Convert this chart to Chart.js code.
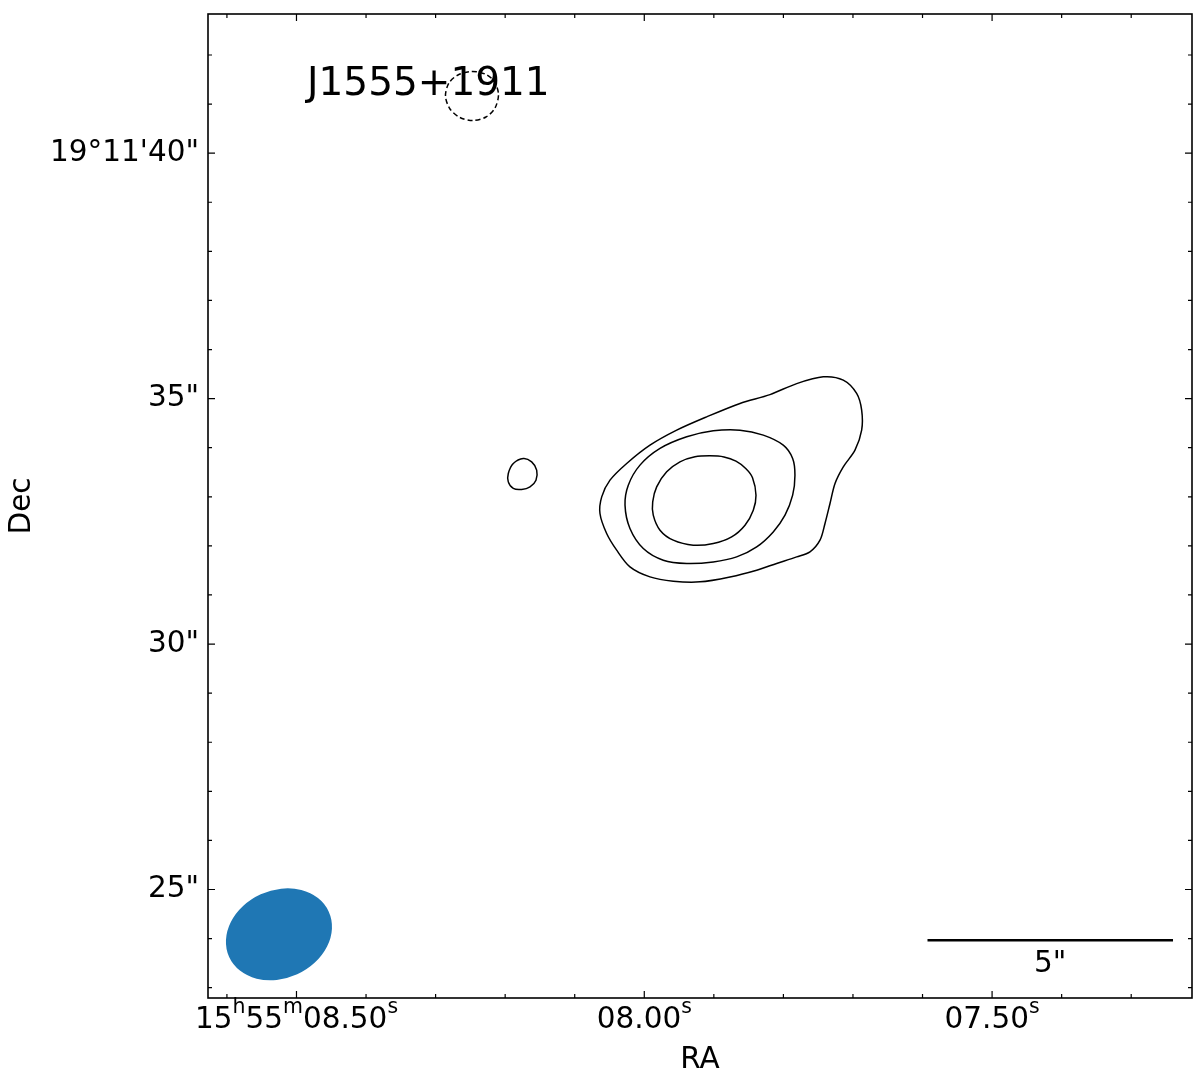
<!DOCTYPE html>
<html>
<head>
<meta charset="utf-8">
<script src="https://cdn.jsdelivr.net/npm/chart.js@4/dist/chart.umd.min.js"></script>
<style>
html,body{margin:0;padding:0;background:#fff;}
#wrap{width:1200px;height:1075px;position:relative;}
</style>
</head>
<body>
<div id="wrap"><canvas id="c" width="1200" height="1075"></canvas></div>
<script>
// ---------------- data ----------------
const sourceName = 'J1555+1911';
const raAxisTitle = 'RA';
const decAxisTitle = 'Dec';
// RA in seconds of 15h55m, Dec in arcsec of +19°11'
const raRange = [7.2126, 8.6272];
const decRange = [22.79, 42.835];
const raMajorTicks = [8.5, 8.0, 7.5];
const raTickLabels = ['15^h55^m08.50^s', '08.00^s', '07.50^s'];
const raMinorTicks = [8.6, 8.4, 8.3, 8.2, 8.1, 7.9, 7.8, 7.7, 7.6, 7.4, 7.3];
const decMajorTicks = [25, 30, 35, 40];
const decTickLabels = ['25"', '30"', '35"', '19°11\'40"'];
const decMinorTicks = [23, 24, 26, 27, 28, 29, 31, 32, 33, 34, 36, 37, 38, 39, 41, 42];

const contourOuter = [
  [7.7427,35.444],[7.7139,35.377],[7.6947,35.106],[7.6875,34.766],[7.6875,34.358],
  [7.6971,33.950],[7.7139,33.610],[7.7258,33.272],[7.7330,32.864],[7.7402,32.457],
  [7.7474,32.116],[7.7618,31.878],[7.7809,31.776],[7.8097,31.642],[7.8384,31.505],
  [7.8768,31.368],[7.9199,31.267],[7.9583,31.281],[7.9918,31.368],[8.0206,31.572],
  [8.0397,31.913],[8.0541,32.253],[8.0637,32.660],[8.0612,32.999],[8.0493,33.339],
  [8.0253,33.679],[7.9918,34.052],[7.9534,34.358],[7.9103,34.629],[7.8624,34.902],
  [7.8193,35.082],[7.7809,35.306]
];
const contourMiddle = [
  [7.8624,34.358],[7.8289,34.256],[7.8002,34.052],[7.7867,33.781],[7.7834,33.441],
  [7.7867,33.033],[7.7977,32.626],[7.8146,32.285],[7.8384,31.980],[7.8672,31.776],
  [7.9008,31.674],[7.9390,31.642],[7.9727,31.709],[8.0014,31.947],[8.0206,32.355],
  [8.0277,32.830],[8.0230,33.237],[8.0062,33.645],[7.9774,33.985],[7.9390,34.222],
  [7.9008,34.344]
];
const contourInner = [
  [7.9056,33.834],[7.8854,33.812],[7.8682,33.726],[7.8538,33.573],[7.8444,33.390],
  [7.8394,33.033],[7.8433,32.728],[7.8552,32.422],[7.8744,32.184],[7.9008,32.049],
  [7.9296,32.014],[7.9583,32.116],[7.9774,32.320],[7.9871,32.626],[7.9879,32.897],
  [7.9822,33.203],[7.9678,33.508],[7.9487,33.712],[7.9271,33.814]
];
const contourKnot = [
  [8.1739,33.781],[8.1619,33.712],[8.1547,33.543],[8.1557,33.339],[8.1643,33.203],
  [8.1763,33.150],[8.1883,33.170],[8.1955,33.304],[8.1955,33.476],[8.1883,33.679]
];
const contourNegative = [
  [8.2477,41.664],[8.2290,41.613],[8.2161,41.470],[8.2096,41.205],[8.2146,40.920],
  [8.2276,40.737],[8.2463,40.665],[8.2650,40.726],[8.2793,40.900],[8.2858,41.165],
  [8.2808,41.430],[8.2678,41.593]
];

// synthesized beam: centre [RA s, Dec "], FWHM major/minor (arcsec), PA (deg E of N)
const beamCentre = [8.5252, 24.087];
const beamMajor = 2.23;
const beamMinor = 1.79;
const beamPA = -65.5;
const beamColor = '#1f77b4';

// scale bar: right end RA, Dec, length (arcsec), declination (deg) for RA conversion
const scaleBarRightRA = 7.2399;
const scaleBarDec = 23.965;
const scaleBarLength = 5;
const scaleBarLabel = '5"';
const fieldDecDeg = 19 + 11/60 + 24/3600;

// ---------------- helpers ----------------
const FONT = "'DejaVu Sans', 'Liberation Sans', sans-serif";
const LABEL_SIZE = 29.5;
function closedLoop(arr) {
  const n = arr.length;
  const seq = [arr[n-1]].concat(arr, [arr[0], arr[1]]);
  return seq.map(p => ({x: p[0], y: p[1]}));
}
function contourSet(arr, dash) {
  const data = closedLoop(arr);
  const last = data.length - 1;
  return {
    data: data,
    showLine: true,
    borderColor: '#000',
    borderWidth: 1.5,
    borderDash: dash || [],
    pointRadius: 0,
    pointHoverRadius: 0,
    tension: 0.3,
    fill: false,
    segment: {
      borderColor: ctx => (ctx.p0DataIndex === 0 || ctx.p1DataIndex === last) ? 'rgba(0,0,0,0)' : '#000'
    }
  };
}
const scaleBarLeftRA = scaleBarRightRA + scaleBarLength / (15 * Math.cos(fieldDecDeg * Math.PI / 180));

const overlay = {
  id: 'overlay',
  beforeDatasetsDraw(chart) {
    const ctx = chart.ctx, xs = chart.scales.x, ys = chart.scales.y, a = chart.chartArea;
    const pxPerArcsec = Math.abs(ys.getPixelForValue(1) - ys.getPixelForValue(0));
    const cx = xs.getPixelForValue(beamCentre[0]);
    const cy = ys.getPixelForValue(beamCentre[1]);
    const pa = beamPA * Math.PI / 180;
    const rot = Math.atan2(-Math.cos(pa), -Math.sin(pa));
    ctx.save();
    ctx.beginPath();
    ctx.rect(a.left, a.top, a.right - a.left, a.bottom - a.top);
    ctx.clip();
    ctx.beginPath();
    ctx.ellipse(cx, cy, beamMajor / 2 * pxPerArcsec, beamMinor / 2 * pxPerArcsec, rot, 0, Math.PI * 2);
    ctx.fillStyle = beamColor;
    ctx.fill();
    ctx.restore();
  },
  afterDraw(chart) {
    const ctx = chart.ctx, xs = chart.scales.x, ys = chart.scales.y, a = chart.chartArea;
    ctx.save();
    ctx.strokeStyle = '#000';
    ctx.lineWidth = 1.6;
    ctx.strokeRect(a.left, a.top, a.right - a.left, a.bottom - a.top);
    ctx.lineWidth = 1.2;
    const tickX = (v, len) => {
      const p = xs.getPixelForValue(v);
      ctx.beginPath();
      ctx.moveTo(p, a.bottom); ctx.lineTo(p, a.bottom - len);
      ctx.moveTo(p, a.top); ctx.lineTo(p, a.top + len);
      ctx.stroke();
    };
    const tickY = (v, len) => {
      const p = ys.getPixelForValue(v);
      ctx.beginPath();
      ctx.moveTo(a.left, p); ctx.lineTo(a.left + len, p);
      ctx.moveTo(a.right, p); ctx.lineTo(a.right - len, p);
      ctx.stroke();
    };
    raMajorTicks.forEach(v => tickX(v, 7));
    raMinorTicks.forEach(v => tickX(v, 4));
    decMajorTicks.forEach(v => tickY(v, 7));
    decMinorTicks.forEach(v => tickY(v, 4));
    // RA tick labels with superscripts
    const mainSize = LABEL_SIZE, supSize = 20.5;
    const baseY = a.bottom + 30;
    ctx.fillStyle = '#000';
    ctx.textBaseline = 'alphabetic';
    ctx.textAlign = 'left';
    raMajorTicks.forEach((v, i) => {
      const parts = raTickLabels[i].split(/\^(.)/);
      let total = 0;
      parts.forEach((t, k) => {
        ctx.font = (k % 2 ? supSize : mainSize) + 'px ' + FONT;
        total += ctx.measureText(t).width;
      });
      let x = xs.getPixelForValue(v) - total / 2;
      parts.forEach((t, k) => {
        const sup = k % 2 === 1;
        ctx.font = (sup ? supSize : mainSize) + 'px ' + FONT;
        ctx.fillText(t, x, sup ? baseY - 15 : baseY);
        x += ctx.measureText(t).width;
      });
    });
    // source name
    ctx.font = '39px ' + FONT;
    ctx.textAlign = 'left';
    ctx.textBaseline = 'alphabetic';
    ctx.fillText(sourceName, a.left + 99, a.top + 81);
    // scale bar label
    ctx.font = LABEL_SIZE + 'px ' + FONT;
    ctx.textAlign = 'center';
    ctx.textBaseline = 'middle';
    const sbx = (xs.getPixelForValue(scaleBarLeftRA) + xs.getPixelForValue(scaleBarRightRA)) / 2;
    ctx.fillText(scaleBarLabel, sbx, ys.getPixelForValue(scaleBarDec) + 24);
    ctx.restore();
  }
};

const scaleBarSet = {
  data: [{x: scaleBarLeftRA, y: scaleBarDec}, {x: scaleBarRightRA, y: scaleBarDec}],
  showLine: true, borderColor: '#000', borderWidth: 2.5, pointRadius: 0, pointHoverRadius: 0, fill: false
};

new Chart(document.getElementById('c'), {
  type: 'scatter',
  data: {
    datasets: [
      contourSet(contourOuter),
      contourSet(contourMiddle),
      contourSet(contourInner),
      contourSet(contourKnot),
      contourSet(contourNegative, [5, 3]),
      scaleBarSet
    ]
  },
  options: {
    responsive: false,
    animation: false,
    devicePixelRatio: 1,
    layout: {padding: {left: 0, top: 14, right: 8, bottom: 0}},
    plugins: {legend: {display: false}, tooltip: {enabled: false}, title: {display: false}},
    events: [],
    scales: {
      x: {
        type: 'linear', position: 'bottom', reverse: true,
        min: raRange[0], max: raRange[1],
        afterBuildTicks: s => { s.ticks = raMajorTicks.map(v => ({value: v})); },
        afterFit: s => { s.height = 77; s.paddingLeft = 0; s.paddingRight = 0; s.paddingTop = 0; s.paddingBottom = 0; },
        grid: {display: false, drawTicks: false}, border: {display: false},
        ticks: {display: false},
        title: {display: true, text: raAxisTitle, color: '#000', font: {family: FONT, size: LABEL_SIZE}, padding: {top: 0, bottom: -3}}
      },
      y: {
        type: 'linear', position: 'left',
        min: decRange[0], max: decRange[1],
        afterBuildTicks: s => { s.ticks = decMajorTicks.map(v => ({value: v})); },
        afterFit: s => { s.width = 208; s.paddingTop = 0; s.paddingBottom = 0; s.paddingLeft = 0; s.paddingRight = 0; },
        grid: {display: false, drawTicks: false}, border: {display: false},
        ticks: {color: '#000', font: {family: FONT, size: LABEL_SIZE}, padding: 9,
          callback: (v, i) => decTickLabels[i]},
        title: {display: true, text: decAxisTitle, color: '#000', font: {family: FONT, size: LABEL_SIZE}, padding: {top: 5, bottom: 0}}
      }
    }
  },
  plugins: [overlay]
});
</script>
</body>
</html>
